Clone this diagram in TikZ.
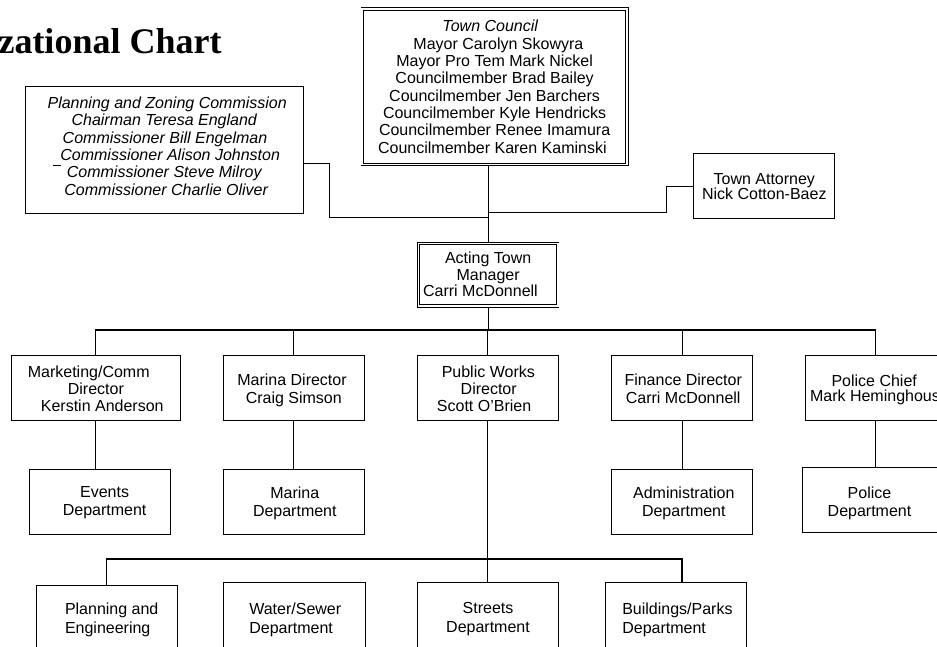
\documentclass[tikz,border=0pt]{standalone}
\usepackage{fontspec}
\setmainfont{Liberation Sans}
\newfontfamily\titlefont{Liberation Serif}
\begin{document}
\begin{tikzpicture}[x=1pt,y=-1pt,
  box/.style={draw, line width=1pt, minimum width=141pt, minimum height=65pt, inner sep=0pt, outer sep=0.5pt},
  dbox/.style={draw, line width=0.9pt, double, double distance=1.6pt, inner sep=0pt, outer sep=1.7pt},
  txt/.style={inner sep=0pt, outer sep=0pt, align=center, anchor=north},
  conn/.style={line width=1.1pt}]
\useasboundingbox (0,0) rectangle (937,647);

% title
\node[anchor=base east, inner sep=0pt, font=\titlefont\bfseries\fontsize{36}{40}\selectfont] (title) at (221.7,53.3) {zational Chart};

% boxes
\node[dbox, minimum width=264.8pt, minimum height=155.5pt] (council) at (494.6,86.65) {};
\node[box, minimum width=278.3pt, minimum height=127.3pt] (pz) at (164.2,149.7) {};
\node[box, minimum width=141.4pt] (att) at (764,186.5) {};
\node[dbox, minimum width=139.1pt, minimum height=62.4pt] (mgr) at (488.15,274.8) {};
\node[box, minimum width=169.7pt] (mkt) at (95.85,388.2) {};
\node[box] (mar) at (293.8,388.2) {};
\node[box] (pw) at (487.8,388.2) {};
\node[box] (fin) at (682.2,388.2) {};
\node[box] (pol) at (875.5,388.2) {};
\node[box, minimum width=141.7pt] (ev) at (99.85,501.8) {};
\node[box] (mard) at (293.8,501.8) {};
\node[box] (adm) at (682.2,501.8) {};
\node[box] (pold) at (872.8,499.8) {};
\node[box, minimum width=141.3pt, minimum height=70pt] (pe) at (106.65,620.7) {};
\node[box, minimum width=141.7pt, minimum height=70pt] (ws) at (294.15,617.7) {};
\node[box, minimum height=70pt] (st) at (487.8,617.7) {};
\node[box, minimum height=70pt] (bp) at (676.2,617.7) {};

% texts
\node[txt, font=\fontsize{16}{17.33}\selectfont] (council-t) at (494.6,20.2)
 {\textit{Town Council}\hspace*{8.4pt}\\
  \hspace*{7.6pt}Mayor Carolyn Skowyra\\
  Mayor Pro Tem Mark Nickel\hspace*{21.4pt}\\
  Councilmember Brad Bailey\hspace*{21.4pt}\\
  Councilmember Jen Barchers\hspace*{18pt}\\
  Councilmember Kyle Hendricks\hspace*{10.4pt}\\
  Councilmember Renee Imamura\hspace*{14.8pt}\\
  Councilmember Karen Kaminski\hspace*{4.4pt}};
\node[txt, font=\fontsize{16}{17.33}\selectfont\itshape] (pz-t) at (164.2,96.8)
 {\hspace*{6pt}Planning and Zoning Commission\\
  Chairman Teresa England\hspace*{4pt}\\
  \hspace*{1.6pt}Commissioner Bill Engelman\\
  \hspace*{12pt}Commissioner Alison Johnston\\
  Commissioner Steve Milroy\hspace*{4pt}\\
  \hspace*{4pt}Commissioner Charlie Oliver};
\draw[line width=1.2pt] (53,165.7) -- (61,165.7);
\node[txt, font=\fontsize{16}{15}\selectfont] (att-t) at (764.3,173.5) {Town Attorney\\Nick Cotton-Baez};
\node[txt, font=\fontsize{16}{16.7}\selectfont] (mgr-t) at (488.15,251.8) {Acting Town\\Manager\\Carri McDonnell\hspace*{15.4pt}};
\node[txt, font=\fontsize{16}{17.2}\selectfont] (mkt-t) at (95.85,365.8) {Marketing/Comm\hspace*{14.2pt}\\Director\hspace*{6.6pt}\\\hspace*{12.8pt}Kerstin Anderson};
\node[txt, font=\fontsize{16}{18.3}\selectfont] (mar-t) at (293.8,373.5) {Marina Director\hspace*{3.6pt}\\Craig Simson};
\node[txt, font=\fontsize{16}{17.2}\selectfont] (pw-t) at (487.8,365.8) {\hspace*{1pt}Public Works\\\hspace*{1.8pt}Director\\Scott O'Brien\hspace*{7.4pt}};
\node[txt, font=\fontsize{16}{18.3}\selectfont] (fin-t) at (683.2,373.5) {Finance Director\\Carri McDonnell};
\node[txt, font=\fontsize{16}{15.7}\selectfont] (pol-t) at (875.5,374.5) {Police Chief\hspace*{2.6pt}\\\hspace*{7.8pt}Mark Heminghouse};
\node[txt, font=\fontsize{16}{17.7}\selectfont] (ev-t) at (104.6,486.8) {Events\\Department};
\node[txt, font=\fontsize{16}{17.7}\selectfont] (mard-t) at (294.8,486.8) {Marina\\Department};
\node[txt, font=\fontsize{16}{17.7}\selectfont] (adm-t) at (683.8,486.8) {Administration\\Department};
\node[txt, font=\fontsize{16}{17.7}\selectfont] (pold-t) at (869.5,486.8) {Police\\Department};
\node[txt, anchor=north west, align=left, font=\fontsize{16}{19.3}\selectfont] (pe-t) at (65,602.5) {Planning and\\Engineering};
\node[txt, anchor=north west, align=left, font=\fontsize{16}{19.3}\selectfont] (ws-t) at (249.3,602.5) {Water/Sewer\\Department};
\node[txt, font=\fontsize{16}{19.3}\selectfont] (st-t) at (488,602.5) {Streets\\Department};
\node[txt, anchor=north west, align=left, font=\fontsize{16}{19.3}\selectfont] (bp-t) at (622.3,602.5) {Buildings/Parks\\Department};

% connectors (top)
\coordinate (pzA) at (329.3,163.3);
\coordinate (pzB) at (329.3,217.3);
\draw[conn] (pz.east |- pzA) -- (pzA) -- (pzB) -- (pzB -| mgr.north);
\coordinate (atA) at (666.7,186.5);
\coordinate (atB) at (666.7,212.7);
\draw[conn] (att.west) -- (atA) -- (atB) -- (atB -| mgr.north);
\draw[conn] (mgr.north |- council.south) -- (mgr.north);

% bus to directors
\coordinate (bus) at (0,330);
\draw[conn] (mgr.south) -- (mgr.south |- bus);
\draw[conn] (mkt.north) -- (mkt.north |- bus) -- (pol.north |- bus) -- (pol.north);
\foreach \n in {mar,pw,fin} \draw[conn] (\n.north) -- (\n.north |- bus);

% directors to departments
\draw[conn] (mkt.south) -- (mkt.south |- ev.north);
\draw[conn] (mar.south) -- (mar.south |- mard.north);
\draw[conn] (fin.south) -- (fin.south |- adm.north);
\draw[conn] (pol.south) -- (pol.south |- pold.north);
\draw[conn] (pw.south) -- (pw.south |- st.north);

% public works bus
\coordinate (bpA) at (682,559);
\draw[conn] (pe.north) -- (pe.north |- bpA) -- (bpA) -- (bpA |- bp.north);
\end{tikzpicture}
\end{document}
